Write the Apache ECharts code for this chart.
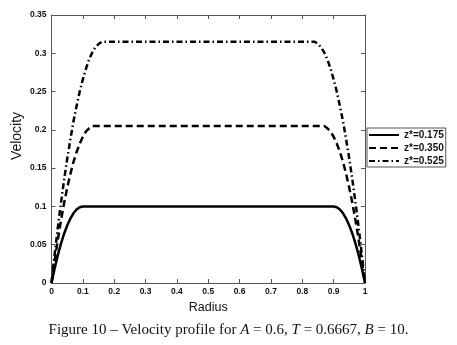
<!DOCTYPE html>
<html>
<head>
<meta charset="utf-8">
<script src="https://cdn.jsdelivr.net/npm/echarts@6/dist/echarts.min.js"></script>
<style>html,body{margin:0;padding:0;background:#fff;}#c{width:457px;height:345px;}</style>
</head>
<body>
<div id="c"></div>
<script>
// Radius sample points
var radius = [0,0.01,0.02,0.03,0.04,0.05,0.06,0.07,0.08,0.09,0.10,0.11,0.12,0.13,0.14,0.15,0.16,0.17,0.18,
              0.82,0.83,0.84,0.85,0.86,0.87,0.88,0.89,0.90,0.91,0.92,0.93,0.94,0.95,0.96,0.97,0.98,0.99,1.00];
// z* = 0.175 (solid)
var vel175 = [0,0.019,0.036,0.051,0.064,0.075,0.084,0.091,0.096,0.099,0.100,0.100,0.100,0.100,0.100,0.100,0.100,0.100,0.100,
              0.100,0.100,0.100,0.100,0.100,0.100,0.100,0.100,0.100,0.099,0.096,0.091,0.084,0.075,0.064,0.051,0.036,0.019,0];
// z* = 0.350 (dashed)
var vel350 = [0,0.029,0.056,0.081,0.104,0.124,0.142,0.158,0.171,0.182,0.191,0.198,0.202,0.205,0.205,0.205,0.205,0.205,0.205,
              0.205,0.205,0.205,0.205,0.205,0.205,0.202,0.198,0.191,0.182,0.171,0.158,0.142,0.124,0.104,0.081,0.056,0.029,0];
// z* = 0.525 (dash-dot)
var vel525 = [0,0.037,0.072,0.104,0.134,0.162,0.187,0.211,0.231,0.250,0.266,0.280,0.292,0.301,0.308,0.312,0.315,0.315,0.315,
              0.315,0.315,0.315,0.312,0.308,0.301,0.292,0.280,0.266,0.250,0.231,0.211,0.187,0.162,0.134,0.104,0.072,0.037,0];
var seriesNames = ['z*=0.175','z*=0.350','z*=0.525'];

function pairs(ys){ return radius.map(function(x,i){ return [x, ys[i]]; }); }

var chart = echarts.init(document.getElementById('c'), null, {renderer:'canvas'});
var axisCol = '#555';
var lblStyle = {color:'#111', fontSize:8.5, fontWeight:'bold', fontFamily:'Liberation Sans, Arial, sans-serif'};
var serif = 'Liberation Serif, Times New Roman, serif';
chart.setOption({
  animation:false,
  backgroundColor:'#fff',
  grid:{left:51.5, right:92, top:15, bottom:62, containLabel:false},
  title:{
    left:'center', top:318,
    text:'{n|Figure 10 – Velocity profile for }{i|A}{n| = 0.6, }{i|T}{n| = 0.6667, }{i|B}{n| = 10.}',
    textStyle:{fontWeight:'normal', rich:{
      n:{fontFamily:serif, fontSize:15, fontWeight:'normal', color:'#111'},
      i:{fontFamily:serif, fontSize:15, fontWeight:'normal', fontStyle:'italic', color:'#111'}
    }}
  },
  legend:{
    orient:'vertical', left:367, top:128,
    data:seriesNames,
    itemWidth:30, itemHeight:8, itemGap:3, itemTextGap:2,
    padding:[2,2,1,1],
    itemStyle:{opacity:0},
    borderColor:'#555', borderWidth:1, backgroundColor:'#fff',
    textStyle:{color:'#111', fontSize:10, fontWeight:'bold', fontFamily:'Liberation Sans, Arial, sans-serif'}
  },
  xAxis:[
    {type:'value', min:0, max:1, interval:0.1, position:'bottom',
     name:'Radius', nameLocation:'middle', nameGap:15,
     nameTextStyle:{color:'#111', fontSize:12.5, fontFamily:'Liberation Sans, Arial, sans-serif'},
     axisLine:{show:true, onZero:false, lineStyle:{color:axisCol, width:1}},
     axisTick:{show:true, inside:true, length:4, lineStyle:{color:axisCol}},
     axisLabel:Object.assign({margin:4}, lblStyle),
     splitLine:{show:false}},
    {type:'value', min:0, max:1, interval:0.1, position:'top',
     axisLine:{show:true, onZero:false, lineStyle:{color:axisCol, width:1}},
     axisTick:{show:true, inside:true, length:4, lineStyle:{color:axisCol}},
     axisLabel:{show:false}, splitLine:{show:false}}
  ],
  yAxis:[
    {type:'value', min:0, max:0.35, interval:0.05, position:'left',
     axisLine:{show:true, onZero:false, lineStyle:{color:axisCol, width:1}},
     axisTick:{show:true, inside:true, length:4, lineStyle:{color:axisCol}},
     axisLabel:Object.assign({margin:5}, lblStyle),
     splitLine:{show:false}},
    {type:'value', min:0, max:0.35, interval:0.05, position:'right',
     axisLine:{show:true, onZero:false, lineStyle:{color:axisCol, width:1}},
     axisTick:{show:true, inside:true, length:4, lineStyle:{color:axisCol}},
     axisLabel:{show:false}, splitLine:{show:false}}
  ],
  graphic:[
    {type:'text', x:17, y:136, rotation:Math.PI/2,
     style:{text:'Velocity', fill:'#111', font:'14px "Liberation Sans", Arial, sans-serif', align:'center', verticalAlign:'middle'}}
  ],
  series:[
    {name:seriesNames[0], type:'line', data:pairs(vel175), symbol:'none', color:'#000',
     lineStyle:{color:'#000', width:2.5, type:'solid'}},
    {name:seriesNames[1], type:'line', data:pairs(vel350), symbol:'none', color:'#000',
     lineStyle:{color:'#000', width:2.5, type:[7,4]}},
    {name:seriesNames[2], type:'line', data:pairs(vel525), symbol:'none', color:'#000',
     lineStyle:{color:'#000', width:2.5, type:[6,3,1.5,3]}}
  ]
});
</script>
</body>
</html>
